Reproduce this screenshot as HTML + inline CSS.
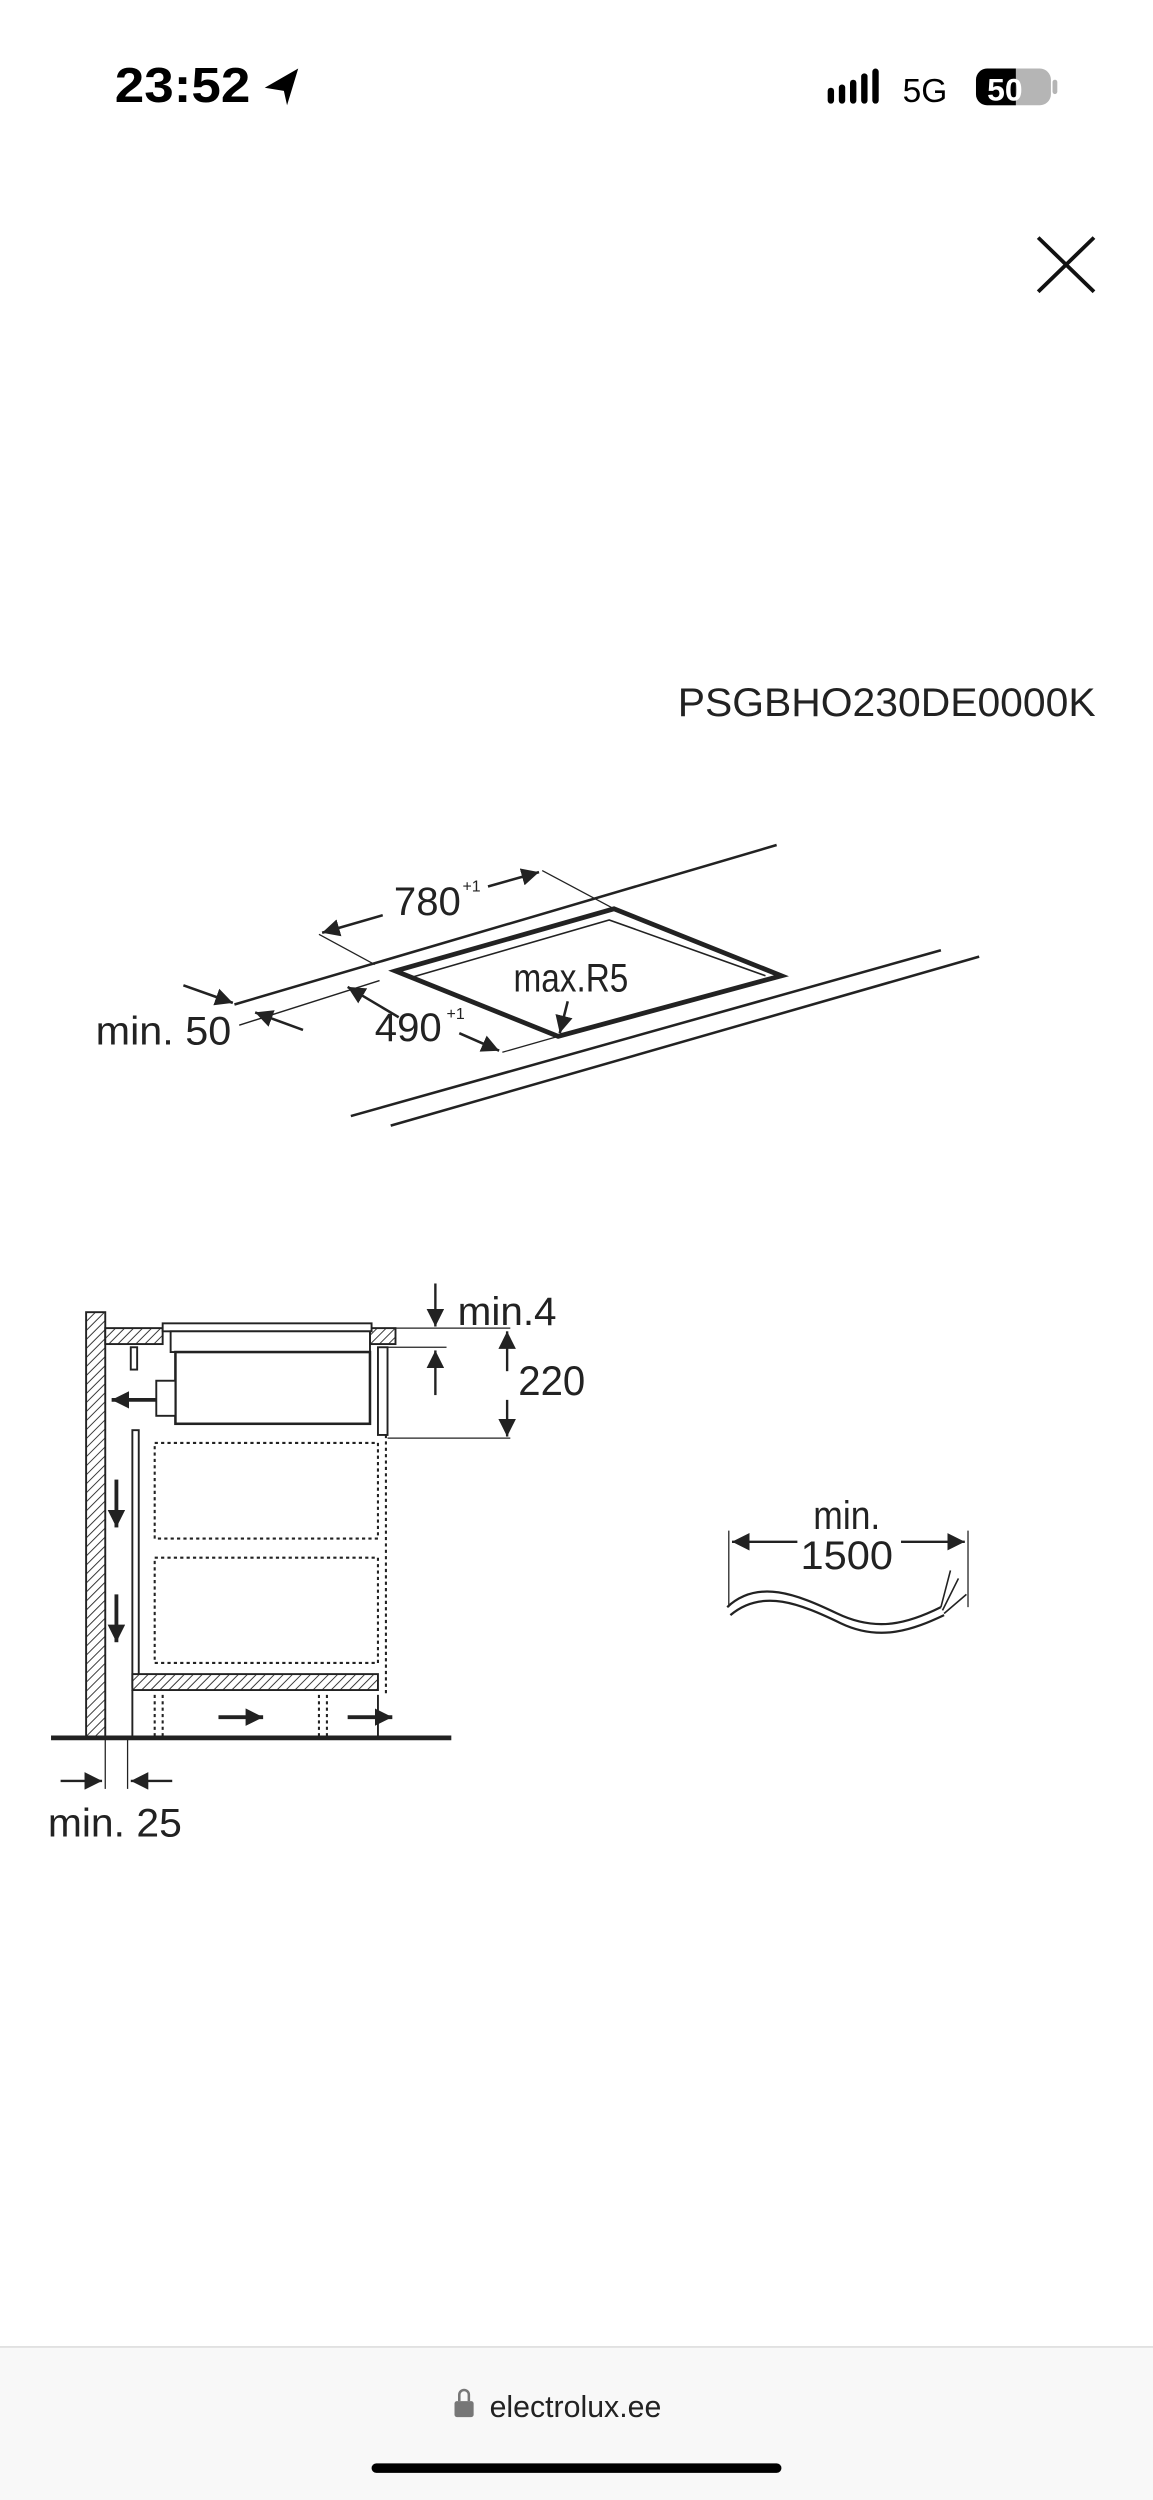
<!DOCTYPE html>
<html><head><meta charset="utf-8"><style>
html,body{margin:0;padding:0;background:#fff;}
svg{display:block;}
text{font-family:"Liberation Sans",sans-serif;fill:#222;}
</style></head><body>
<svg width="1153" height="2500" viewBox="0 0 723 1568" preserveAspectRatio="none" xmlns="http://www.w3.org/2000/svg">
<defs>
<pattern id="h" width="4" height="4" patternUnits="userSpaceOnUse" patternTransform="rotate(45)">
<rect width="4" height="4" fill="#fff"/><line x1="0" y1="0" x2="0" y2="4" stroke="#333" stroke-width="1.2"/></pattern>
<marker id="a" viewBox="0 0 10 10" refX="10" refY="5" markerWidth="11" markerHeight="11" markerUnits="userSpaceOnUse" orient="auto-start-reverse"><path d="M0,0 L10,5 L0,10 Z" fill="#222"/></marker>
<marker id="b" viewBox="0 0 10 10" refX="10" refY="5" markerWidth="11" markerHeight="11" markerUnits="userSpaceOnUse" orient="auto-start-reverse"><path d="M0,0 L10,5 L0,10 Z" fill="#222"/></marker>
</defs>
<!-- status bar -->
<text x="72" y="64" font-size="31" font-weight="bold" textLength="85" lengthAdjust="spacingAndGlyphs" style="fill:#000">23:52</text>
<path d="M166,55 L187,43 L180,66 L178,57 Z" fill="#000"/>
<g fill="#000"><rect x="519" y="55" width="4" height="10" rx="2"/><rect x="526" y="53" width="4" height="12" rx="2"/><rect x="533" y="50" width="4" height="15" rx="2"/><rect x="540" y="46" width="4" height="19" rx="2"/><rect x="547" y="43" width="4" height="22" rx="2"/></g>
<text x="566" y="64" font-size="21" style="fill:#000">5G</text>
<rect x="612" y="43" width="47" height="23" rx="7" fill="#b5b5b5"/>
<path d="M619,43 H637 V66 H619 A7,7 0 0 1 612,59 V50 A7,7 0 0 1 619,43 Z" fill="#000"/>
<rect x="660" y="50" width="3" height="9" rx="1.5" fill="#b5b5b5"/>
<text x="619" y="63" font-size="20" font-weight="bold" style="fill:#fff">50</text>
<!-- close -->
<path d="M651,149 L686,183 M686,149 L651,183" stroke="#111" stroke-width="2.4"/>
<!-- title -->
<text x="425" y="449" font-size="25" textLength="262" lengthAdjust="spacingAndGlyphs">PSGBHO230DE0000K</text>
<!-- top diagram -->
<g stroke="#222" fill="none">
<line x1="147" y1="630" x2="487" y2="530" stroke-width="1.6"/>
<line x1="150" y1="643" x2="238" y2="615" stroke-width="0.9"/>
<line x1="220" y1="700" x2="590" y2="596" stroke-width="1.6"/>
<line x1="245" y1="706" x2="614" y2="600" stroke-width="1.6"/>
<path d="M248,609 L385,570 L490,612 L350,650 Z" stroke-width="3"/>
<path d="M258,613 L382,577 L480,612" stroke-width="1"/>
<line x1="200" y1="586" x2="235" y2="605" stroke-width="0.8"/>
<line x1="340" y1="546" x2="385" y2="570" stroke-width="0.8"/>
<line x1="315" y1="660" x2="350" y2="650" stroke-width="0.8"/>
<line x1="240" y1="574" x2="202" y2="585" stroke-width="1.6" marker-end="url(#b)"/>
<line x1="306" y1="556" x2="338" y2="547" stroke-width="1.6" marker-end="url(#b)"/>
<line x1="250" y1="638" x2="218" y2="619" stroke-width="1.6" marker-end="url(#b)"/>
<line x1="288" y1="648" x2="313" y2="659" stroke-width="1.6" marker-end="url(#b)"/>
<line x1="115" y1="618" x2="146" y2="629" stroke-width="1.6" marker-end="url(#b)"/>
<line x1="190" y1="646" x2="160" y2="635" stroke-width="1.6" marker-end="url(#b)"/>
<line x1="356" y1="628" x2="351" y2="648" stroke-width="1.6" marker-end="url(#b)"/>
</g>
<text x="247" y="574" font-size="25" textLength="42" lengthAdjust="spacingAndGlyphs">780</text><text x="290" y="559" font-size="10">+1</text>
<text x="235" y="653" font-size="25" textLength="42" lengthAdjust="spacingAndGlyphs">490</text><text x="280" y="639" font-size="10">+1</text>
<text x="322" y="622" font-size="25" textLength="72" lengthAdjust="spacingAndGlyphs">max.R5</text>
<text x="60" y="655" font-size="25" textLength="85" lengthAdjust="spacingAndGlyphs">min. 50</text>
<!-- bottom diagram -->
<g stroke="#222" stroke-width="1.2">
<rect x="54" y="823" width="12" height="267" fill="url(#h)"/>
<rect x="66" y="833" width="36" height="10" fill="url(#h)"/>
<rect x="232" y="833" width="16" height="10" fill="url(#h)"/>
<rect x="102" y="830" width="131" height="5" fill="#fff"/>
<rect x="107" y="835" width="125" height="13" fill="#fff"/>
<rect x="110" y="848" width="122" height="45" fill="#fff" stroke-width="1.6"/>
<rect x="98" y="866" width="12" height="22" fill="#fff"/>
<rect x="82" y="845" width="4" height="14" fill="#fff"/>
<rect x="237" y="845" width="6" height="55" fill="#fff"/>
<rect x="83" y="897" width="4" height="161" fill="#fff"/>
<rect x="83" y="1050" width="154" height="10" fill="url(#h)"/>
<line x1="32" y1="1090" x2="283" y2="1090" stroke-width="3"/>
<line x1="237" y1="1063" x2="237" y2="1090"/>
<line x1="83" y1="1060" x2="83" y2="1090"/>
</g>
<g stroke="#222" stroke-width="1.3" fill="none" stroke-dasharray="2,2">
<rect x="97" y="905" width="140" height="60"/>
<rect x="97" y="977" width="140" height="66"/>
<line x1="242" y1="900" x2="242" y2="1063"/>
<line x1="97" y1="1063" x2="97" y2="1090"/><line x1="102" y1="1063" x2="102" y2="1090"/>
<line x1="200" y1="1063" x2="200" y2="1090"/><line x1="205" y1="1063" x2="205" y2="1090"/>
</g>
<g stroke="#222" stroke-width="2.4" fill="none">
<line x1="98" y1="878" x2="70" y2="878" marker-end="url(#a)"/>
<line x1="73" y1="928" x2="73" y2="958" marker-end="url(#a)"/>
<line x1="73" y1="1000" x2="73" y2="1030" marker-end="url(#a)"/>
<line x1="137" y1="1077" x2="165" y2="1077" marker-end="url(#a)"/>
<line x1="218" y1="1077" x2="246" y2="1077" marker-end="url(#a)"/>
</g>
<g stroke="#222" stroke-width="1.5" fill="none">
<line x1="273" y1="805" x2="273" y2="832" marker-end="url(#a)"/>
<line x1="273" y1="875" x2="273" y2="847" marker-end="url(#a)"/>
<line x1="233" y1="833" x2="320" y2="833" stroke-width="0.8"/>
<line x1="243" y1="845" x2="280" y2="845" stroke-width="0.8"/>
<line x1="243" y1="902" x2="320" y2="902" stroke-width="0.8"/>
<line x1="318" y1="860" x2="318" y2="835" marker-end="url(#b)"/>
<line x1="318" y1="878" x2="318" y2="901" marker-end="url(#b)"/>
<line x1="66" y1="1090" x2="66" y2="1122" stroke-width="0.8"/>
<line x1="80" y1="1090" x2="80" y2="1122" stroke-width="0.8"/>
<line x1="38" y1="1117" x2="64" y2="1117" marker-end="url(#b)"/>
<line x1="108" y1="1117" x2="82" y2="1117" marker-end="url(#b)"/>
</g>
<text x="287" y="831" font-size="25" textLength="62" lengthAdjust="spacingAndGlyphs">min.4</text>
<text x="325" y="875" font-size="26" textLength="42" lengthAdjust="spacingAndGlyphs">220</text>
<text x="30" y="1152" font-size="25" textLength="84" lengthAdjust="spacingAndGlyphs">min. 25</text>
<!-- cable -->
<g stroke="#222" stroke-width="1.5" fill="none">
<line x1="457" y1="960" x2="457" y2="1008" stroke-width="0.8"/>
<line x1="607" y1="960" x2="607" y2="1008" stroke-width="0.8"/>
<line x1="500" y1="967" x2="459" y2="967" marker-end="url(#b)"/>
<line x1="565" y1="967" x2="605" y2="967" marker-end="url(#b)"/>
<path d="M456,1008 C475,990 500,1000 525,1012 C550,1024 570,1018 590,1008" stroke-width="1.4"/>
<path d="M458,1013 C478,996 502,1006 527,1018 C552,1030 573,1022 592,1013" stroke-width="1.4"/>
<path d="M590,1008 L596,985 M591,1010 L601,990 M592,1012 L606,1000" stroke-width="1"/>
</g>
<text x="510" y="959" font-size="25" textLength="42" lengthAdjust="spacingAndGlyphs">min.</text>
<text x="502" y="984" font-size="25" textLength="58" lengthAdjust="spacingAndGlyphs">1500</text>
<!-- bottom bar -->
<rect x="0" y="1472" width="723" height="96" fill="#f8f8f8"/>
<line x1="0" y1="1472" x2="723" y2="1472" stroke="#ddd" stroke-width="1"/>
<rect x="285" y="1506" width="12" height="10" rx="1.5" fill="#777"/>
<path d="M288,1506 V1502 A3,3 0 0 1 294,1502 V1506" stroke="#777" stroke-width="1.6" fill="none"/>
<text x="307" y="1516" font-size="19" style="fill:#222">electrolux.ee</text>
<rect x="233" y="1545" width="257" height="6" rx="3" fill="#000"/>
</svg>
</body></html>
